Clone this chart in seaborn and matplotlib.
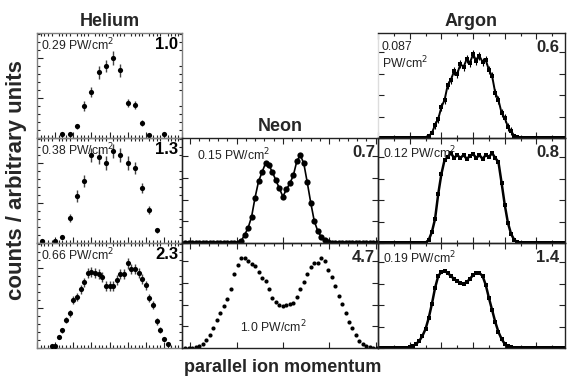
import numpy as np
import pandas as pd
import matplotlib
matplotlib.use("Agg")
import matplotlib.pyplot as plt
from matplotlib import font_manager
from matplotlib.ticker import MultipleLocator
import seaborn as sns

sns.set_theme(style="ticks")
names = {f.name for f in font_manager.fontManager.ttflist}
BOLD_FAM = ["Liberation Sans Narrow", "Liberation Sans", "DejaVu Sans"] if "Liberation Sans Narrow" in names else ["Liberation Sans", "DejaVu Sans"]
plt.rcParams['font.family'] = ['Liberation Sans', 'DejaVu Sans']

# ---------------- data ----------------
# Helium (binned, with statistical error bars)
he_low_x = [-1.95, -1.65, -1.35, -1.05, -0.75, -0.45, -0.15, 0.15, 0.45, 0.75, 1.05, 1.35, 1.65, 2.25]
he_low_y = [4, 4, 12, 32, 46, 66, 72, 80, 68, 35, 33, 15, 3, 4]
he_low_err = [1.5, 1.5, 2.5, 5, 5, 6.5, 6, 7, 6.5, 4, 4, 3, 1.5, 1.5]

he_mid_x = [-2.8, -2.25, -1.95, -1.65, -1.35, -1.05, -0.75, -0.45, -0.15, 0.15, 0.45, 0.75, 1.05, 1.35, 1.65, 1.95]
he_mid_y = [2, 2, 6, 25, 47, 62, 88, 86, 80, 92, 88, 80, 75, 55, 33, 13]
he_mid_err = [1.5, 1.5, 2, 4, 6, 6, 7, 7, 7, 7, 7, 7, 6, 5, 4, 2.5]

he_high_x = [-2.4, -2.25, -2.1, -1.95, -1.8, -1.65, -1.5, -1.35, -1.2, -1.05, -0.9, -0.75, -0.6,
             -0.45, -0.3, -0.15, 0.0, 0.15, 0.3, 0.45, 0.6, 0.75, 0.9, 1.05, 1.2, 1.35, 1.5, 1.65,
             1.8, 1.95, 2.1, 2.25, 2.4]
he_high_y = [2, 2, 11, 18, 28, 35, 48, 51, 59, 66, 75, 76, 75, 74, 71, 62, 62, 62, 68, 74, 74, 85,
             79, 79, 75, 69, 63, 50, 43, 27, 18, 9, 4]
he_high_err = [1, 1, 2, 2.5, 3, 3.5, 4, 4, 4.5, 4.5, 5, 5, 5, 5, 5, 5, 5, 5, 5, 5, 5, 5.5,
               5, 5, 5, 5, 4.5, 4, 4, 3.5, 3, 2, 1.5]

# Neon (fine bins)
ne_x = list(np.round(np.arange(-4.2, 4.1, 0.15), 2))
ne_low_y = [0, 0, 0, 0, 0, 0, 0, 0, 0, 0, 0, 0, 0, 0, 0, 0,
            2, 8, 15, 26, 45, 61, 70, 79, 77, 70, 62, 54, 46, 53, 59, 67,
            81, 87, 79, 60, 40, 22, 12, 6, 3, 1,
            0, 0, 0, 0, 0, 0, 0, 0, 0, 0, 0, 0, 0, 0]
ne_high_y = [0, 0, 0, 1, 2, 4, 8, 13, 20, 28, 35, 42, 49, 58, 73, 82, 89, 89, 86, 83, 81, 75,
             69, 66, 58, 50, 46, 43, 42, 43, 44, 45, 51, 58, 65, 73, 80, 84, 84, 89, 86, 77,
             70, 61, 52, 44, 35, 26, 20, 13, 7, 4, 2, 1, 0, 0]

# Argon (fine bins)
ar_x = list(np.round(np.arange(-3.0, 2.95, 0.1), 2))
ar_low_y = [0]*15 + [0, 2, 5, 13, 19, 31, 38, 53, 58, 67, 64, 74, 71, 79, 75, 84, 77, 82, 76, 78,
                     68, 62, 45, 38, 25, 20, 11, 7, 2, 1] + [0]*15
ar_mid_y = [0]*15 + [0, 3, 11, 24, 49, 69, 83, 86, 90, 85, 88, 85, 88, 84, 87, 89, 85, 88, 84,
                     88, 86, 90, 85, 81, 60, 38, 20, 9, 3, 1] + [0]*15
ar_high_y = [0]*9 + [0, 1, 2, 4, 7, 12, 19, 30, 44, 60, 72, 76, 77, 75, 72, 69, 67, 65, 64, 66,
                     69, 73, 75, 75, 72, 63, 50, 38, 26, 16, 9, 4, 2, 1, 0] + [0]*16

intens = {"he": ["0.29 PW/cm$^2$", "0.38 PW/cm$^2$", "0.66 PW/cm$^2$"],
          "ne": ["0.15 PW/cm$^2$", "1.0 PW/cm$^2$"],
          "ar": ["0.087\nPW/cm$^2$", "0.12 PW/cm$^2$", "0.19 PW/cm$^2$"]}
factors = {"he": ["1.0", "1.3", "2.3"], "ne": ["0.7", "4.7"], "ar": ["0.6", "0.8", "1.4"]}

# ---------------- layout ----------------
W, H = 567, 383
fig = plt.figure(figsize=(W / 100, H / 100), dpi=100)
fig.patch.set_facecolor("white")

SMALL = 8.8
FAC = 12


def add_ax(x0, x1, y0, y1):
    return fig.add_axes([x0 / W, (H - y1) / H, (x1 - x0) / W, (y1 - y0) / H])


rows = [(33, 138), (138, 243), (243, 348)]
HE_X = (37, 182)
NE_X = (182, 378)
AR_X = (378, 565)


def style(ax, color, xlim, ylim):
    ax.set_xlim(*xlim)
    ax.set_ylim(*ylim)
    ax.set_facecolor("none")
    for s in ax.spines.values():
        s.set_color(color)
        s.set_linewidth(1.0)
    ax.set_xlabel("")
    ax.set_ylabel("")
    ax.tick_params(which="both", direction="in", top=True, right=True,
                   labelbottom=False, labelleft=False, color="#222222", width=0.8)
    ax.tick_params(which="major", length=4)
    ax.tick_params(which="minor", length=2)


# Helium
he_sets = [(he_low_x, he_low_y, he_low_err), (he_mid_x, he_mid_y, he_mid_err),
           (he_high_x, he_high_y, he_high_err)]
for r, (xs, ys, es) in enumerate(he_sets):
    ax = add_ax(*HE_X, *rows[r])
    df = pd.DataFrame({"x": xs, "y": ys})
    ax.errorbar(xs, ys, yerr=es, fmt="none", ecolor="#444444", elinewidth=1.0)
    sns.scatterplot(data=df, x="x", y="y", ax=ax, color="black", s=14, linewidth=0, zorder=3)
    style(ax, "#808080", (-3, 3), (0, 105))
    ax.xaxis.set_major_locator(MultipleLocator(0.75))
    ax.xaxis.set_minor_locator(MultipleLocator(0.15))
    ax.yaxis.set_major_locator(MultipleLocator(40))
    ax.yaxis.set_minor_locator(MultipleLocator(8))
    ax.tick_params(top=False, right=False)
    ax.text(0.03, 0.89, intens["he"][r], transform=ax.transAxes, fontsize=SMALL,
            ha="left", va="center", color="#222222")
    ax.text(0.975, 0.89, factors["he"][r], transform=ax.transAxes, fontsize=FAC,
            ha="right", va="center", fontweight="bold", color="black")
    if r == 0:
        ax.set_title("Helium", fontsize=13, fontweight="bold", family=BOLD_FAM, pad=5)

# Neon
for r, ys in enumerate([ne_low_y, ne_high_y]):
    ax = add_ax(*NE_X, *rows[r + 1])
    df = pd.DataFrame({"x": ne_x, "y": ys})
    if r == 0:
        sns.lineplot(data=df, x="x", y="y", ax=ax, color="black", lw=1.2, marker="o",
                     markersize=4.5, markeredgewidth=0)
    else:
        sns.scatterplot(data=df, x="x", y="y", ax=ax, color="black", s=9, linewidth=0)
    style(ax, "#222222", (-4.35, 4.1), (0, 104))
    ax.xaxis.set_major_locator(MultipleLocator(2))
    ax.xaxis.set_minor_locator(MultipleLocator(0.4))
    ax.yaxis.set_major_locator(MultipleLocator(21.5))
    ax.tick_params(which="minor", bottom=False)
    ax.text(0.985, 0.86, factors["ne"][r], transform=ax.transAxes, fontsize=FAC,
            ha="right", va="center", fontweight="bold")
    if r == 0:
        ax.text(0.075, 0.84, intens["ne"][0], transform=ax.transAxes, fontsize=SMALL,
                ha="left", va="center", color="#222222")
        ax.set_title("Neon", fontsize=13, fontweight="bold", family=BOLD_FAM, pad=5)
    else:
        ax.text(0.465, 0.2, intens["ne"][1], transform=ax.transAxes, fontsize=SMALL,
                ha="center", va="center", color="#222222")

# Argon
for r, ys in enumerate([ar_low_y, ar_mid_y, ar_high_y]):
    ax = add_ax(*AR_X, *rows[r])
    df = pd.DataFrame({"x": ar_x, "y": ys})
    if r == 0:
        ax.errorbar(ar_x, ys, yerr=[4 if v > 5 else 0 for v in ys], fmt="none",
                    ecolor="black", elinewidth=0.8)
    sns.lineplot(data=df, x="x", y="y", ax=ax, color="black", lw=1.8 if r else 1.4,
                 marker="s", markersize=2.8, markeredgewidth=0)
    style(ax, "#222222", (-3.0, 2.9), (0, 105))
    ax.xaxis.set_major_locator(MultipleLocator(1))
    ax.xaxis.set_minor_locator(MultipleLocator(0.5))
    ax.yaxis.set_major_locator(MultipleLocator(21.5))
    if r == 0:
        ax.spines["left"].set_color("#dddddd")
        ax.text(0.02, 0.78, intens["ar"][0], transform=ax.transAxes, fontsize=SMALL,
                ha="left", va="center", color="#222222", linespacing=1.1)
        ax.set_title("Argon", fontsize=13, fontweight="bold", family=BOLD_FAM, pad=5)
    else:
        ax.text(0.025, 0.86, intens["ar"][r], transform=ax.transAxes, fontsize=SMALL,
                ha="left", va="center", color="#222222")
    ax.text(0.97, 0.86, factors["ar"][r], transform=ax.transAxes, fontsize=FAC,
            ha="right", va="center", fontweight="bold")

fig.text(17 / W, 1 - 180 / H, "counts / arbitrary units", rotation=90, fontsize=16,
         fontweight="bold", family=BOLD_FAM, ha="center", va="center")
fig.text(283 / W, 1 - 368 / H, "parallel ion momentum", fontsize=13,
         fontweight="bold", family=BOLD_FAM, ha="center", va="center")

fig.savefig("out.png", dpi=100, facecolor="white")
